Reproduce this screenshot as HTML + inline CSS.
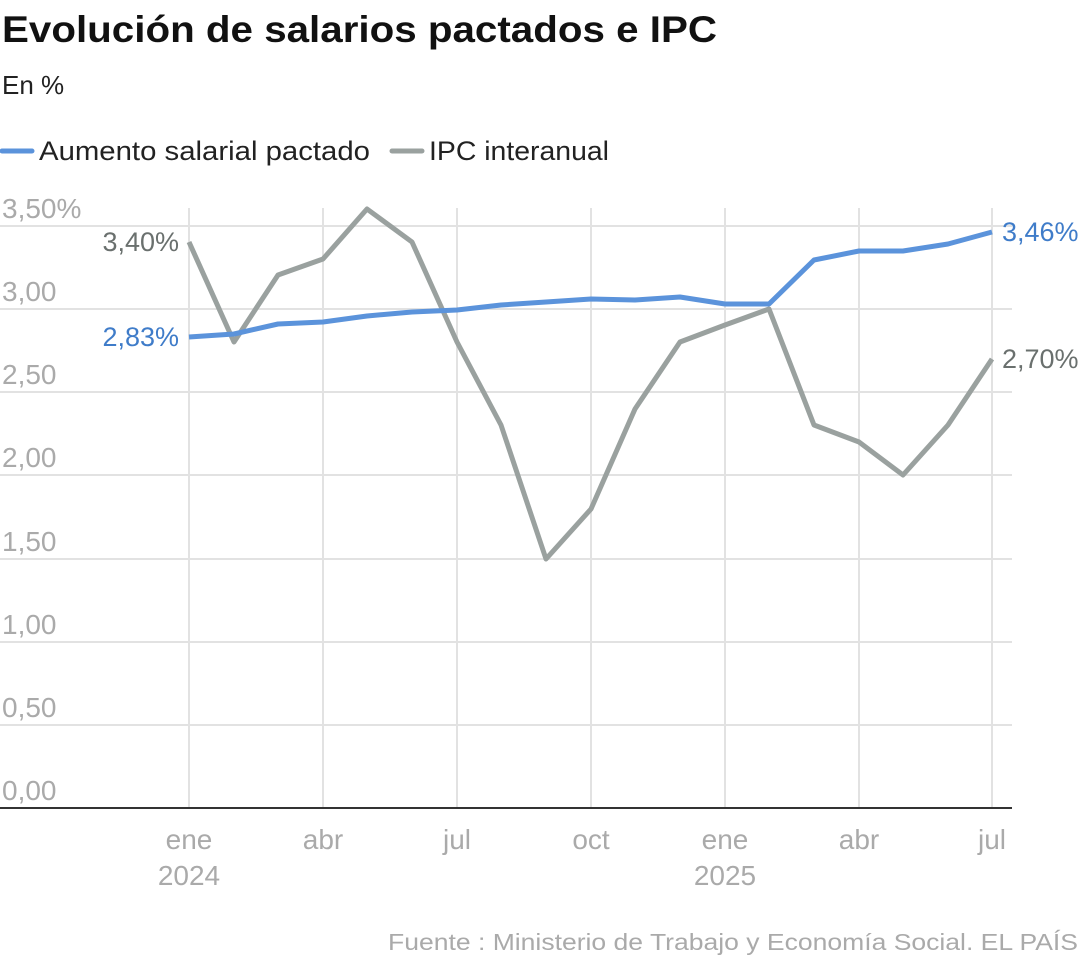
<!DOCTYPE html>
<html><head><meta charset="utf-8"><style>
body{margin:0;background:#fff;width:1080px;height:962px;overflow:hidden;font-family:"Liberation Sans",sans-serif}
</style></head><body>
<svg width="1080" height="962" xmlns="http://www.w3.org/2000/svg" font-family="Liberation Sans, sans-serif">
<text x="2" y="42" font-size="37" font-weight="bold" fill="#111" textLength="715" lengthAdjust="spacingAndGlyphs">Evolución de salarios pactados e IPC</text>
<text x="2" y="94" font-size="26" fill="#222">En %</text>
<line x1="2" y1="151" x2="32" y2="151" stroke="#5b93db" stroke-width="5" stroke-linecap="round"/>
<text x="39" y="160" font-size="27" fill="#222" textLength="331" lengthAdjust="spacingAndGlyphs">Aumento salarial pactado</text>
<line x1="392" y1="151" x2="422" y2="151" stroke="#9aa19f" stroke-width="5" stroke-linecap="round"/>
<text x="429" y="160" font-size="27" fill="#222" textLength="180" lengthAdjust="spacingAndGlyphs">IPC interanual</text>
<g stroke="#e2e2e2" stroke-width="2">
<line x1="0" y1="226" x2="1012" y2="226"/><line x1="0" y1="309" x2="1012" y2="309"/>
<line x1="0" y1="392" x2="1012" y2="392"/><line x1="0" y1="475" x2="1012" y2="475"/>
<line x1="0" y1="559" x2="1012" y2="559"/><line x1="0" y1="642" x2="1012" y2="642"/>
<line x1="0" y1="725" x2="1012" y2="725"/>
<line x1="189" y1="208" x2="189" y2="808"/><line x1="323" y1="208" x2="323" y2="808"/>
<line x1="457" y1="208" x2="457" y2="808"/><line x1="591" y1="208" x2="591" y2="808"/>
<line x1="725" y1="208" x2="725" y2="808"/><line x1="859" y1="208" x2="859" y2="808"/>
<line x1="992" y1="208" x2="992" y2="808"/>
</g>
<line x1="0" y1="808" x2="1012" y2="808" stroke="#333" stroke-width="2"/>
<g font-size="28" fill="#aaa">
<text x="2" y="218">3,50%</text><text x="2" y="301">3,00</text><text x="2" y="384">2,50</text>
<text x="2" y="467">2,00</text><text x="2" y="551">1,50</text><text x="2" y="634">1,00</text>
<text x="2" y="717">0,50</text><text x="2" y="800">0,00</text>
</g>
<g font-size="28" fill="#aaa" text-anchor="middle">
<text x="189" y="849">ene</text><text x="189" y="885">2024</text>
<text x="323" y="849">abr</text><text x="457" y="849">jul</text><text x="591" y="849">oct</text>
<text x="725" y="849">ene</text><text x="725" y="885">2025</text>
<text x="859" y="849">abr</text><text x="992" y="849">jul</text>
</g>
<polyline fill="none" stroke="#9aa19f" stroke-width="5" stroke-linejoin="round" points="189,242 234,342 278,275 323,259 367,209 412,242 457,342 501,425 546,559 591,509 635,409 680,342 725,325 769,309 814,425 859,442 903,475 948,425 992,359"/>
<polyline fill="none" stroke="#5b93db" stroke-width="5" stroke-linejoin="round" points="189,337 234,334 278,324 323,322 367,316 412,312 457,310 501,305 546,302 591,299 635,300 680,297 725,304 769,304 814,260 859,251 903,251 948,244 992,232"/>
<text x="179" y="251" font-size="27" fill="#6a706e" text-anchor="end">3,40%</text>
<text x="179" y="346" font-size="27" fill="#3f7cc9" text-anchor="end">2,83%</text>
<text x="1002" y="241" font-size="27" fill="#3f7cc9">3,46%</text>
<text x="1002" y="368" font-size="27" fill="#6a706e">2,70%</text>
<text x="388" y="950" font-size="23" fill="#aaa" textLength="690" lengthAdjust="spacingAndGlyphs">Fuente : Ministerio de Trabajo y Economía Social. EL PAÍS</text>
</svg>
</body></html>
